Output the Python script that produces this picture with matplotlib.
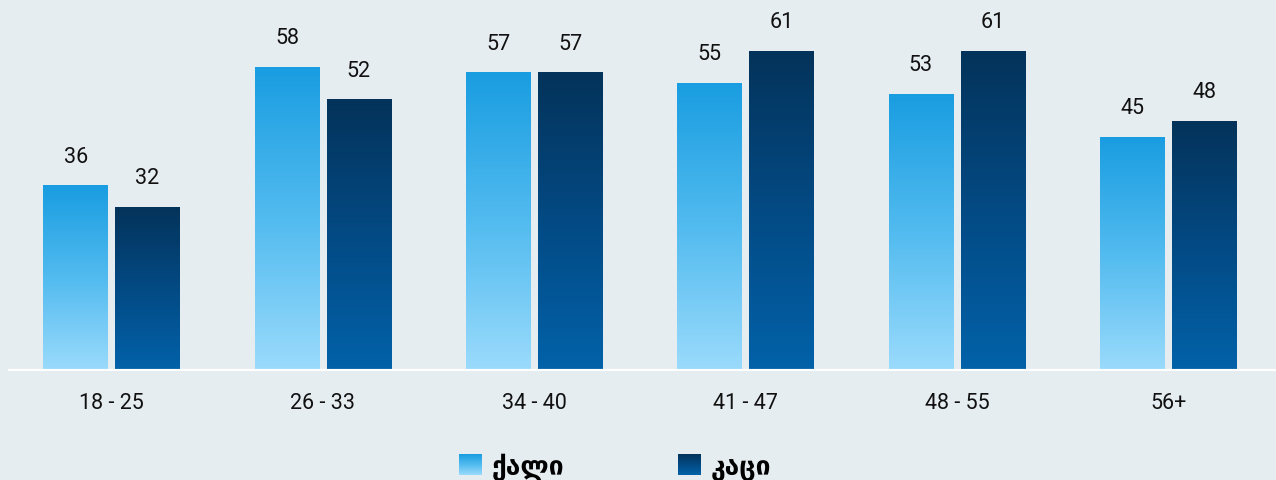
import matplotlib
matplotlib.use('Agg')
from matplotlib import pyplot as plt
from matplotlib.colors import LinearSegmentedColormap
from matplotlib.patches import Patch
from matplotlib.legend_handler import HandlerBase
from matplotlib.image import BboxImage
from matplotlib.transforms import Bbox, TransformedBbox
import numpy as np

categories = ['18 - 25', '26 - 33', '34 - 40', '41 - 47', '48 - 55', '56+']
women = [36, 58, 57, 55, 53, 45]
men = [32, 52, 57, 61, 61, 48]
series_names = ['ქალი', 'კაცი']

bg = '#e6edf1'
plt.rcParams['font.family'] = ['Roboto', 'DejaVu Sans']

light_cmap = LinearSegmentedColormap.from_list('light', ['#9bdbfc', '#52bbef', '#199de1'])
dark_cmap = LinearSegmentedColormap.from_list('dark', ['#0262a9', '#034a84', '#04335a'])
grad = np.linspace(0, 1, 256).reshape(-1, 1)


class GradHandler(HandlerBase):
    def __init__(self, cmap):
        super().__init__()
        self.cmap = cmap

    def create_artists(self, legend, orig_handle, xdescent, ydescent,
                       width, height, fontsize, trans):
        bb = TransformedBbox(Bbox.from_bounds(-xdescent, -ydescent, width, height), trans)
        img = BboxImage(bb, cmap=self.cmap, origin='lower', interpolation='bilinear')
        img.set_data(grad)
        return [img]


fig = plt.figure(figsize=(12.76, 4.81), dpi=100, facecolor=bg)
ax = fig.add_axes([8 / 1276, 109 / 481, 1268 / 1276, 372 / 481])
ax.set_facecolor(bg)

x = np.arange(len(categories))
width = 0.305
off = 0.17

bars_w = ax.bar(x - off, women, width, color='none', edgecolor='none')
bars_m = ax.bar(x + off, men, width, color='none', edgecolor='none')

ax.set_xlim(-0.49, 5.51)
ax.set_ylim(1.5, 70.6)

for bars, cmap in [(bars_w, light_cmap), (bars_m, dark_cmap)]:
    for b in bars:
        x0 = b.get_x()
        w, h = b.get_width(), b.get_height()
        im = ax.imshow(grad, cmap=cmap, origin='lower', aspect='auto',
                       extent=[x0, x0 + w, 1.5, h], zorder=2)
        im.set_clip_path(b)
        ax.annotate(f'{h:g}', (x0 + w / 2, h), xytext=(0, 17),
                    textcoords='offset points', ha='center', va='baseline',
                    fontsize=15.5, color='#111111')

ax.set_xlim(-0.49, 5.51)
ax.set_ylim(1.5, 70.6)
ax.axhline(1.5, color='white', lw=3, zorder=3)

ax.set_xticks(x)
ax.set_xticklabels(categories, fontsize=15.5, color='#111111')
ax.tick_params(axis='x', length=0, pad=15)
ax.set_yticks([])
for s in ax.spines.values():
    s.set_visible(False)

handles = [Patch(facecolor='#4fb7ec'), Patch(facecolor='#034a84')]
fig.legend(handles, series_names, loc='center', bbox_to_anchor=(0.482, 0.029),
           ncol=2, frameon=False, handlelength=0.84, handleheight=0.84,
           handletextpad=0.4, columnspacing=4.3,
           handler_map={handles[0]: GradHandler(light_cmap),
                        handles[1]: GradHandler(dark_cmap)},
           prop={'family': 'DejaVu Sans', 'weight': 'bold', 'size': 19})

fig.savefig('out.png', dpi=100, facecolor=bg)
